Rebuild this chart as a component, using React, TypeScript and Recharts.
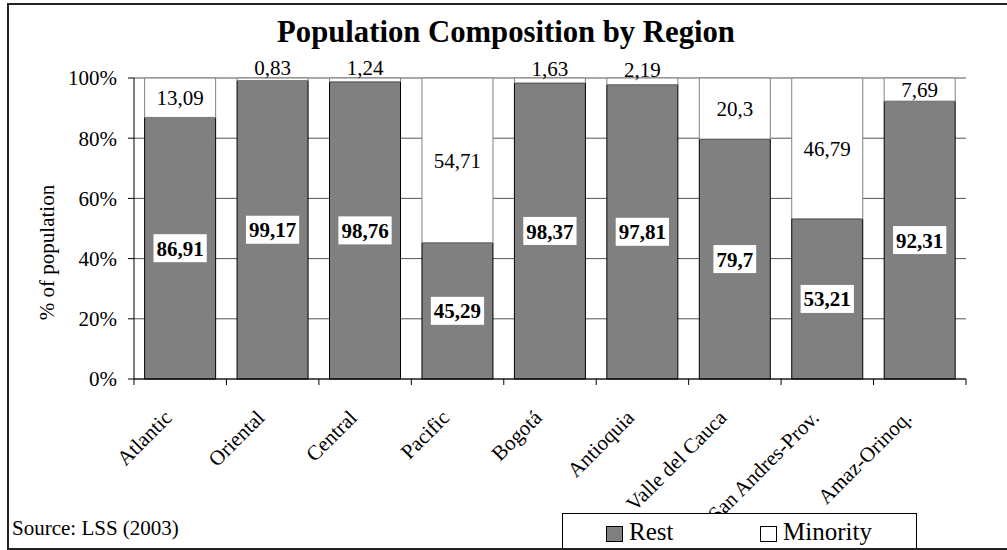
import { BarChart, Bar, XAxis, YAxis, CartesianGrid, LabelList } from "recharts";

// share of population per region (%), by group
const regions = [
  "Atlantic",
  "Oriental",
  "Central",
  "Pacific",
  "Bogotá",
  "Antioquia",
  "Valle del Cauca",
  "San Andres-Prov.",
  "Amaz-Orinoq.",
];
const restShare = [86.91, 99.17, 98.76, 45.29, 98.37, 97.81, 79.7, 53.21, 92.31];
const minorityShare = [13.09, 0.83, 1.24, 54.71, 1.63, 2.19, 20.3, 46.79, 7.69];
const percentTicks = [0, 20, 40, 60, 80, 100];

const series = [
  { key: "rest", name: "Rest", fill: "#808080", stroke: "#000000" },
  { key: "minority", name: "Minority", fill: "#ffffff", stroke: "#808080" },
];

const data = regions.map((region, i) => ({
  region,
  rest: restShare[i],
  minority: minorityShare[i],
}));

const W = 1007;
const H = 550;
const FONT = '"Liberation Serif", "Times New Roman", serif';

// decimal comma, as in the source table
const fmt = (v: number) => String(v).replace(".", ",");

function RestLabel(props: any) {
  const { x, y, width, height, value } = props;
  const text = fmt(Number(value));
  const cx = Number(x) + Number(width) / 2;
  const cy = Number(y) + Number(height) / 2;
  const digits = text.replace(",", "").length;
  const boxW = digits * 10.5 + (text.includes(",") ? 5.25 : 0) + 6;
  return (
    <g>
      <rect x={cx - boxW / 2} y={cy - 14} width={boxW} height={28} fill="#ffffff" />
      <text
        x={cx}
        y={cy}
        dy="0.36em"
        textAnchor="middle"
        fontFamily={FONT}
        fontSize={21}
        fontWeight="bold"
        fill="#000"
      >
        {text}
      </text>
    </g>
  );
}

function MinorityLabel(props: any) {
  const { x, y, width, height, value } = props;
  const h = Number(height);
  const cx = Number(x) + Number(width) / 2;
  // thin slices get their number lifted above the bar
  const cy = Number(y) + h / 2 - (h < 15 ? 12 : 0);
  return (
    <text
      x={cx}
      y={cy}
      dy="0.36em"
      textAnchor="middle"
      fontFamily={FONT}
      fontSize={21}
      fill="#000"
    >
      {fmt(Number(value))}
    </text>
  );
}

function RegionTick(props: any) {
  const { x, y, payload, index } = props;
  const half = payload?.offset || 46.2;
  const axisY = y - 6;
  const last = index === regions.length - 1;
  return (
    <g>
      <line x1={x - half} x2={x - half} y1={axisY} y2={axisY + 6} stroke="#000" />
      {last && <line x1={x + half} x2={x + half} y1={axisY} y2={axisY + 6} stroke="#000" />}
      <text
        transform={`translate(${x - 7},${y + 34}) rotate(-45)`}
        textAnchor="end"
        fontFamily={FONT}
        fontSize={21}
        fill="#000"
      >
        {payload.value}
      </text>
    </g>
  );
}

function AxisTitle(props: any) {
  const vb = props.viewBox || { x: 54, y: 78, height: 301 };
  return (
    <text
      transform={`translate(${vb.x},${vb.y + vb.height / 2 + 24}) rotate(-90)`}
      textAnchor="middle"
      fontFamily={FONT}
      fontSize={21}
      fill="#000"
    >
      % of population
    </text>
  );
}

export default function App() {
  return (
    <div
      style={{
        position: "absolute",
        left: 0,
        top: 0,
        width: W,
        height: H,
        background: "#fff",
        overflow: "hidden",
      }}
    >
      <BarChart
        width={W}
        height={H}
        data={data}
        margin={{ top: 78, right: 41, left: 54, bottom: 141 }}
        barCategoryGap="11.5%"
      >
        <CartesianGrid vertical={false} stroke="#555" />
        <XAxis
          dataKey="region"
          height={30}
          interval={0}
          tickLine={false}
          tickSize={6}
          tickMargin={0}
          axisLine={{ stroke: "#000" }}
          tick={<RegionTick />}
        />
        <YAxis
          width={80}
          domain={[0, 100]}
          ticks={percentTicks}
          interval={0}
          tickFormatter={(v: number) => `${v}%`}
          tickSize={6}
          tickMargin={11}
          axisLine={{ stroke: "#000" }}
          tickLine={{ stroke: "#000" }}
          tick={{ fontFamily: FONT, fontSize: 21, fill: "#000" }}
          label={<AxisTitle />}
        />
        <YAxis
          yAxisId="frame"
          orientation="right"
          width={0}
          domain={[0, 100]}
          tick={false}
          tickLine={false}
          axisLine={{ stroke: "#000" }}
        />
        <Bar
          dataKey="rest"
          name={series[0].name}
          stackId="share"
          fill={series[0].fill}
          stroke={series[0].stroke}
          strokeWidth={1}
          isAnimationActive={false}
        >
          <LabelList dataKey="rest" content={<RestLabel />} />
        </Bar>
        <Bar
          dataKey="minority"
          name={series[1].name}
          stackId="share"
          fill={series[1].fill}
          stroke={series[1].stroke}
          strokeWidth={1}
          isAnimationActive={false}
        >
          <LabelList dataKey="minority" content={<MinorityLabel />} />
        </Bar>
      </BarChart>

      <svg
        width={W}
        height={H}
        style={{ position: "absolute", left: 0, top: 0, pointerEvents: "none" }}
      >
        <text
          x={506}
          y={42}
          textAnchor="middle"
          fontFamily={FONT}
          fontSize={30.7}
          fontWeight="bold"
          fill="#000"
        >
          Population Composition by Region
        </text>
        <text x={12} y={535} fontFamily={FONT} fontSize={21} fill="#000">
          Source: LSS (2003)
        </text>

        {/* legend */}
        <rect x={562.5} y={513.5} width={354} height={40} fill="#fff" stroke="#000" />
        {series.map((s, i) => (
          <g key={s.key} transform={`translate(${606 + i * 154},526)`}>
            <rect x={0.5} y={0.5} width={16} height={15} fill={s.fill} stroke="#000" />
            <text x={23} y={14} fontFamily={FONT} fontSize={25} fill="#000">
              {s.name}
            </text>
          </g>
        ))}

        {/* outer frame */}
        <path d={`M ${W} 4 H 8 V 549 H ${W}`} fill="none" stroke="#222" strokeWidth={2} />
      </svg>
    </div>
  );
}
